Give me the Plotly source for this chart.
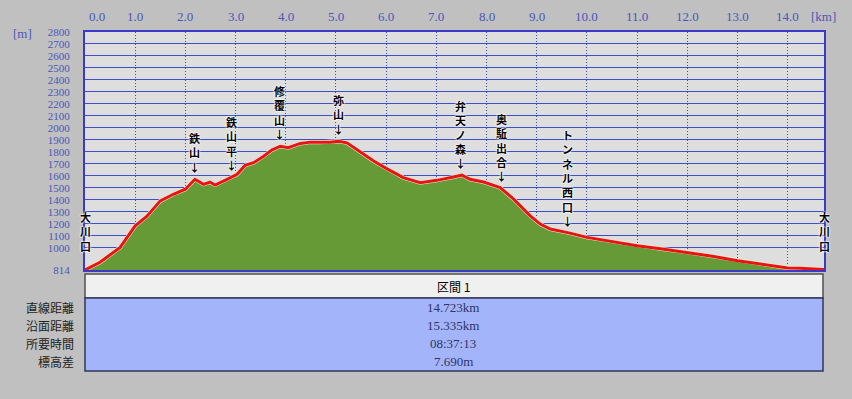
import plotly.graph_objects as go

# ---- data ----
dist_km = [0.0, 0.30, 0.70, 1.00, 1.23, 1.50, 1.76, 2.00, 2.19, 2.36, 2.49, 2.59, 2.83, 3.03,
           3.19, 3.36, 3.56, 3.72, 3.89, 4.05, 4.29, 4.49, 4.68, 4.88, 5.05, 5.22, 5.48, 5.75,
           6.01, 6.34, 6.68, 7.01, 7.34, 7.51, 7.67, 7.94, 8.27, 8.54, 8.87, 9.07, 9.27, 9.47,
           9.66, 10.0, 10.5, 11.0, 11.5, 12.0, 12.5, 13.0, 13.5, 14.0, 14.25, 14.723]
elev_m = [814, 879, 1003, 1183, 1261, 1391, 1446, 1488, 1571, 1529, 1548, 1523, 1571, 1612,
          1687, 1709, 1764, 1814, 1847, 1834, 1870, 1881, 1881, 1881, 1889, 1875, 1800, 1723,
          1660, 1585, 1543, 1562, 1590, 1606, 1571, 1548, 1502, 1405, 1266, 1197, 1156, 1141,
          1122, 1086, 1052, 1017, 990, 962, 928, 892, 862, 831, 828, 818]

wp_names = ["鉄山", "鉄山平", "修覆山", "弥山", "弁天ノ森", "奥駈出合", "トンネル西口"]
wp_km = [2.19, 2.91, 3.87, 5.05, 7.49, 8.29, 9.62]
wp_elev = [1571, 1590, 1847, 1889, 1606, 1502, 1122]

end_names = ["大川口", "大川口"]
end_km = [0.0, 14.723]
end_elev = [814, 814]

x_ticks = [0, 1, 2, 3, 4, 5, 6, 7, 8, 9, 10, 11, 12, 13, 14]
y_ticks = [814] + list(range(1000, 2900, 100))

row_labels = ["直線距離", "沿面距離", "所要時間", "標高差"]
row_values = ["14.723km", "15.335km", "08:37:13", "7.690m"]
section_title = "区間 1"

# ---- layout helpers (pixel -> paper) ----
W, H = 852, 399
L, R, T, B = 85, 28, 32, 129
PW, PH = W - L - R, H - T - B


def py(p):
    return (H - B - p) / PH


def px(p):
    return (p - L) / PW


BLUE = "#3c4ec8"
TICKC = "#4a56b8"
SERIF = "Liberation Serif, DejaVu Serif, serif"
JP = "Noto Sans CJK JP, sans-serif"
HALO = "0 0 2px #fff, 0 0 2px #fff, 0 0 2px #fff"

fig = go.Figure()
fig.add_trace(go.Scatter(x=dist_km, y=elev_m, mode="lines", fill="tozeroy",
                         fillcolor="#669a36", line=dict(color="#f4ecd0", width=4),
                         hoverinfo="skip", showlegend=False))
fig.add_trace(go.Scatter(x=dist_km, y=elev_m, mode="lines",
                         line=dict(color="#e81414", width=3),
                         hoverinfo="skip", showlegend=False))

annotations = []
for n, k, e in zip(wp_names, wp_km, wp_elev):
    annotations.append(dict(x=k, y=e, xref="x", yref="y", yanchor="bottom", yshift=3,
                            text="<br>".join(list(n) + ["↓"]), showarrow=False, borderpad=0,
                            font=dict(family=JP, size=11, color="#000", weight="bold",
                                      shadow=HALO)))
for n, k, e in zip(end_names, end_km, end_elev):
    annotations.append(dict(x=k, y=e, xref="x", yref="y", yanchor="bottom", yshift=15,
                            text="<br>".join(list(n)), showarrow=False, borderpad=0,
                            font=dict(family=JP, size=11, color="#000", weight="bold",
                                      shadow=HALO)))

# x tick labels (top)
for t in x_ticks:
    annotations.append(dict(x=t, y=py(16), xref="x", yref="paper", yanchor="middle",
                            xshift=12 if t == 0 else 0,
                            text=f"{t:.1f}", showarrow=False,
                            font=dict(family=SERIF, size=13, color=TICKC)))
annotations.append(dict(x=px(838), y=py(16), xref="paper", yref="paper", yanchor="middle",
                        text="[km]", showarrow=False, font=dict(family=SERIF, size=13, color=TICKC)))
annotations.append(dict(x=px(11), y=py(33), xref="paper", yref="paper", yanchor="middle",
                        text="[m]", showarrow=False, font=dict(family=SERIF, size=13, color=TICKC)))
# table
annotations.append(dict(x=px(453), y=py(286), xref="paper", yref="paper", yanchor="middle",
                        text=section_title, showarrow=False, font=dict(family=JP, size=12, color="#000")))
row_y = [307, 325, 343, 361]
for lab, val, ry in zip(row_labels, row_values, row_y):
    annotations.append(dict(x=px(76), y=py(ry), xref="paper", yref="paper", xanchor="right",
                            yanchor="middle", text=lab, showarrow=False,
                            font=dict(family=JP, size=12, color="#222")))
    annotations.append(dict(x=px(453), y=py(ry), xref="paper", yref="paper",
                            yanchor="middle", text=val, showarrow=False,
                            font=dict(family=SERIF, size=13, color="#2c3468")))

shapes = [
    dict(type="rect", xref="paper", yref="paper", x0=0, x1=px(823), y0=py(298), y1=py(274),
         fillcolor="#f0f0f0", line=dict(color="#505050", width=1.5), layer="above"),
    dict(type="rect", xref="paper", yref="paper", x0=0, x1=px(823), y0=py(371), y1=py(298),
         fillcolor="#a3b4fa", line=dict(color="#30365c", width=1.5), layer="above"),
]

fig.update_layout(
    width=W, height=H,
    margin=dict(l=L, r=R, t=T, b=B, pad=0),
    paper_bgcolor="#c0c0c0",
    plot_bgcolor="#dedede",
    annotations=annotations,
    shapes=shapes,
    xaxis=dict(range=[0, 14.723], side="top", tickvals=x_ticks, showticklabels=False,
               showgrid=True, gridcolor=BLUE, griddash="1px,2px", gridwidth=1,
               showline=True, linecolor="#3a3ac8", linewidth=2, mirror=True,
               zeroline=False, ticks=""),
    yaxis=dict(range=[814, 2800], tickvals=y_ticks, ticktext=[str(v) for v in y_ticks],
               showgrid=True, gridcolor=BLUE, gridwidth=1.2,
               showline=True, linecolor="#3a3ac8", linewidth=2, mirror=True,
               zeroline=False, ticks="outside", ticklen=11, tickcolor="rgba(0,0,0,0)",
               tickfont=dict(family=SERIF, size=11, color=TICKC)),
)

fig.write_html("out.html", config={"displayModeBar": False},
               post_script="document.body.style.margin='0';document.body.style.background='#c0c0c0';")
